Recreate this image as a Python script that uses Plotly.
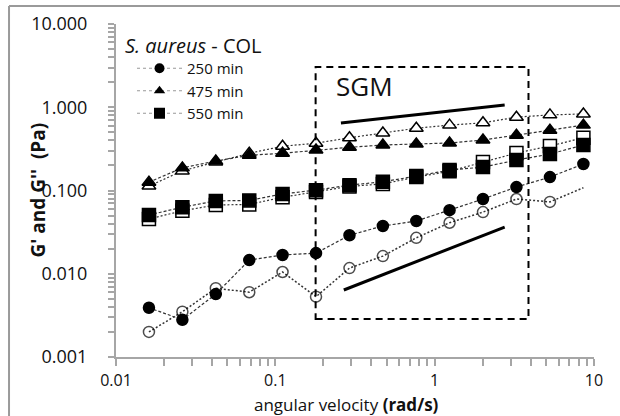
import numpy as np
import plotly.graph_objects as go

# ---------------- data ----------------
freq = [0.0161, 0.0261, 0.0423, 0.0686, 0.111, 0.180, 0.292, 0.473, 0.767,
        1.24, 2.01, 3.26, 5.29, 8.58]

g1_250 = [0.0039, 0.0028, 0.0057, 0.0146, 0.0168, 0.0177, 0.029, 0.0375,
          0.043, 0.058, 0.079, 0.110, 0.145, 0.208]
g2_250 = [0.0020, 0.0035, 0.0067, 0.0060, 0.0105, 0.0053, 0.0117, 0.0163,
          0.027, 0.041, 0.055, 0.079, 0.073, 0.108]

g1_475 = [0.126, 0.187, 0.226, 0.265, 0.28, 0.306, 0.33, 0.352, 0.362,
          0.372, 0.404, 0.46, 0.53, 0.61]
g2_475 = [0.113, 0.172, 0.22, 0.28, 0.34, 0.37, 0.43, 0.49, 0.56, 0.61,
          0.65, 0.76, 0.81, 0.83]

g1_550 = [0.0508, 0.063, 0.075, 0.076, 0.091, 0.101, 0.116, 0.127, 0.149,
          0.176, 0.191, 0.232, 0.274, 0.352]
g2_550 = [0.0455, 0.057, 0.067, 0.068, 0.083, 0.096, 0.112, 0.120, 0.145,
          0.170, 0.22, 0.282, 0.342, 0.43]

legend_names = ["250 min", "475 min", "550 min"]
x_ticks = [0.01, 0.1, 1, 10]
x_ticklabels = ["0.01", "0.1", "1", "10"]
y_ticks = [0.001, 0.01, 0.1, 1, 10]
y_ticklabels = ["0.001", "0.010", "0.100", "1.000", "10.000"]

# ---------------- figure ----------------
FONT = "Open Sans"
fig = go.Figure()

dash_g1 = "3px,2px"
dot_g2 = "2px,2px"
lc = "#333333"

def add(y, symbol, size, filled, dash, sizes=None):
    fig.add_trace(go.Scatter(
        x=freq, y=y, mode="lines+markers", showlegend=False,
        line=dict(color=lc, width=1.2, dash=dash),
        marker=dict(symbol=symbol, size=sizes if sizes is not None else size,
                    color="black" if filled else "white",
                    line=dict(color="black", width=1.5)),
    ))

# open (G'') first, filled (G') on top
add(g2_550, "square", 13, False, dot_g2)
add(g1_550, "square", 13, True, dash_g1)
add(g2_475, "triangle-up", 12, False, dot_g2)
add(g1_475, "triangle-up", 12, True, dash_g1)
circle_sizes = [11] * (len(freq) - 1) + [0]
fig.add_trace(go.Scatter(
    x=freq, y=g2_250, mode="lines+markers", showlegend=False,
    line=dict(color=lc, width=1.5, dash=dot_g2),
    marker=dict(symbol="circle-open", size=circle_sizes, color="black",
                line=dict(color="black", width=1.5)),
))
add(g1_250, "circle", 11, True, dash_g1)

# legend entries
for name, sym, sz in zip(legend_names, ["circle", "triangle-up", "square"], [10, 10, 11]):
    fig.add_trace(go.Scatter(
        x=[None], y=[None], mode="lines+markers", name=name,
        line=dict(color="#999999", width=1.2, dash="dot"),
        marker=dict(symbol=sym, size=sz, color="black"),
    ))

# minor ticks
def minor_vals(decades):
    vals = []
    for d in decades:
        for m in range(1, 10):
            vals.append(m * d)
    return vals

x_all = minor_vals([0.01, 0.1, 1]) + [10]
y_all = minor_vals([0.001, 0.01, 0.1, 1]) + [10]
x_text = [x_ticklabels[x_ticks.index(v)] if v in x_ticks else "" for v in x_all]
y_text = [y_ticklabels[y_ticks.index(v)] if v in y_ticks else "" for v in y_all]

axis_grey = "#a6a6a6"
fig.update_xaxes(
    type="log", range=[-2, 1], showgrid=False, zeroline=False,
    showline=True, linecolor=axis_grey, linewidth=2,
    tickmode="array", tickvals=x_all, ticktext=x_text,
    ticks="outside", ticklen=7, tickcolor=axis_grey, tickwidth=1.5,
    tickfont=dict(family=FONT, size=16, color="#111"),
    ticklabelstandoff=1,
)
fig.update_yaxes(
    type="log", range=[-3, 1], showgrid=False, zeroline=False,
    showline=True, linecolor=axis_grey, linewidth=2,
    tickmode="array", tickvals=y_all, ticktext=y_text,
    ticks="outside", ticklen=6, tickcolor=axis_grey, tickwidth=1.5,
    tickfont=dict(family=FONT, size=18, color="#111"),
    ticklabelstandoff=17,
)

shapes = [
    # SGM dashed box
    dict(type="rect", xref="x", yref="y", x0=0.179, x1=3.88, y0=0.00286, y1=3.04,
         line=dict(color="black", width=2, dash="7px,5px"), fillcolor="rgba(0,0,0,0)"),
    # slope lines
    dict(type="line", xref="x", yref="y", x0=0.258, x1=2.75, y0=0.647, y1=1.064,
         line=dict(color="black", width=3)),
    dict(type="line", xref="x", yref="y", x0=0.269, x1=2.75, y0=0.00638, y1=0.0364,
         line=dict(color="black", width=3)),
    # outer frame (left and top)
    dict(type="line", xref="paper", yref="paper", x0=-0.2238, x1=-0.2238, y0=-0.2, y1=1.054,
         line=dict(color="#9a9a9a", width=2)),
    dict(type="line", xref="paper", yref="paper", x0=-0.2238, x1=1.06, y0=1.054, y1=1.054,
         line=dict(color="#9a9a9a", width=2)),
]

annotations = [
    dict(text="SGM", x=np.log10(0.364), y=0.255, xref="x", yref="y",
         showarrow=False, font=dict(family=FONT, size=26, color="#111")),
    dict(text="angular velocity <b>(rad/s)</b>", x=(346 - 116) / 478, y=(357 - 404) / 333,
         xref="paper", yref="paper", showarrow=False, xanchor="center", yanchor="middle",
         font=dict(family=FONT, size=17, color="#111")),
    dict(text="<b>G' and G''  (Pa)</b>", x=(37 - 116) / 478, y=0.5, textangle=-90,
         xref="paper", yref="paper", showarrow=False, xanchor="center", yanchor="middle",
         font=dict(family=FONT, size=19, color="#111")),
    dict(text="<i>S. aureus</i> - COL", x=(123 - 116) / 478, y=(357 - 45) / 333,
         xref="paper", yref="paper", showarrow=False, xanchor="left", yanchor="middle",
         font=dict(family=FONT, size=20, color="#111")),
]

fig.update_layout(
    width=620, height=416,
    margin=dict(l=116, r=26, t=24, b=59),
    paper_bgcolor="white", plot_bgcolor="white",
    shapes=shapes, annotations=annotations,
    legend=dict(
        x=(132 - 116) / 478, y=(357 - 52) / 333, xanchor="left", yanchor="top",
        bgcolor="rgba(0,0,0,0)", itemwidth=45, tracegroupgap=0,
        font=dict(family=FONT, size=15, color="#111"),
    ),
)

fig.write_html("out.html", config={"displayModeBar": False},
               post_script="document.body.style.margin='0';")
